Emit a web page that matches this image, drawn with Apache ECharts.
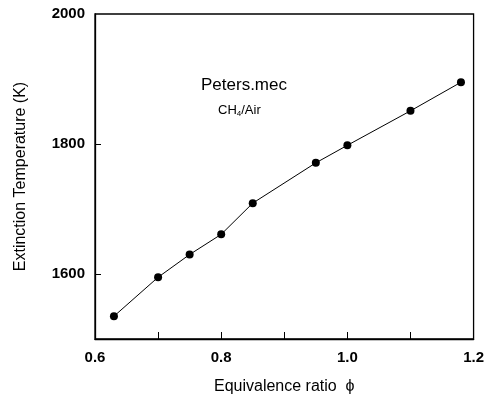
<!DOCTYPE html>
<html>
<head>
<meta charset="utf-8">
<script src="https://cdn.jsdelivr.net/npm/echarts@6/dist/echarts.min.js"></script>
<style>html,body{margin:0;padding:0;background:#fff}#c{width:487px;height:400px}</style>
</head>
<body>
<div id="c"></div>
<script>
var phi = [0.63, 0.70, 0.75, 0.80, 0.85, 0.95, 1.00, 1.10, 1.18];
var extinctionT = [1535, 1595, 1630, 1661, 1709, 1771, 1798, 1851, 1895];
var xLabelValues = [0.6, 0.8, 1.0, 1.2];
var xTickValues = [0.7, 0.8, 0.9, 1.0, 1.1];
var yLabelValues = [1600, 1800, 2000];
var yTickValues = [1600, 1800];

var chart = echarts.init(document.getElementById('c'));
var font = 'Liberation Sans, Arial, sans-serif';
chart.setOption({
  animation: false,
  backgroundColor: '#fff',
  grid: { left: 95, right: 11, top: 14, bottom: 61, show: true, borderColor: '#000', borderWidth: 1.3, backgroundColor: 'transparent' },
  xAxis: {
    type: 'value', min: 0.6, max: 1.2,
    name: 'Equivalence ratio  \u03D5', nameLocation: 'middle', nameGap: 40,
    nameTextStyle: { color: '#000', fontSize: 16, fontFamily: font },
    axisLine: { show: true, onZero: false, lineStyle: { color: '#000', width: 1.3 } },
    axisTick: { show: true, inside: true, length: 7, customValues: xTickValues, lineStyle: { color: '#000' } },
    axisLabel: { customValues: xLabelValues, color: '#000', fontSize: 15, fontWeight: 'bold', fontFamily: font, margin: 11,
      formatter: function (v) { return v.toFixed(1); } },
    splitLine: { show: false }
  },
  yAxis: {
    type: 'value', min: 1500, max: 2000,
    name: 'Extinction Temperature (K)', nameLocation: 'middle', nameGap: 66,
    nameTextStyle: { color: '#000', fontSize: 16, fontFamily: font },
    axisLine: { show: true, onZero: false, lineStyle: { color: '#000', width: 1.3 } },
    axisTick: { show: true, inside: true, length: 6, customValues: yTickValues, lineStyle: { color: '#000' } },
    axisLabel: { customValues: yLabelValues, color: '#000', fontSize: 15, fontWeight: 'bold', fontFamily: font, margin: 10,
      formatter: function (v) { return String(v); } },
    splitLine: { show: false }
  },
  graphic: [
    { type: 'text', left: 201, top: 77, style: { text: 'Peters.mec', fill: '#000', font: '17px ' + font } },
    { type: 'text', left: 218, top: 104, style: {
      text: '{a|CH}{s|4}{a|/Air}',
      rich: { a: { fill: '#000', fontSize: 13, fontFamily: font }, s: { fill: '#000', fontSize: 8, fontFamily: font, padding: [6, 0, 0, 0] } }
    } }
  ],
  series: [{
    type: 'line',
    data: phi.map(function (x, i) { return [x, extinctionT[i]]; }),
    symbol: 'circle', symbolSize: 8,
    itemStyle: { color: '#000' },
    lineStyle: { color: '#000', width: 1 }
  }]
});
</script>
</body>
</html>
